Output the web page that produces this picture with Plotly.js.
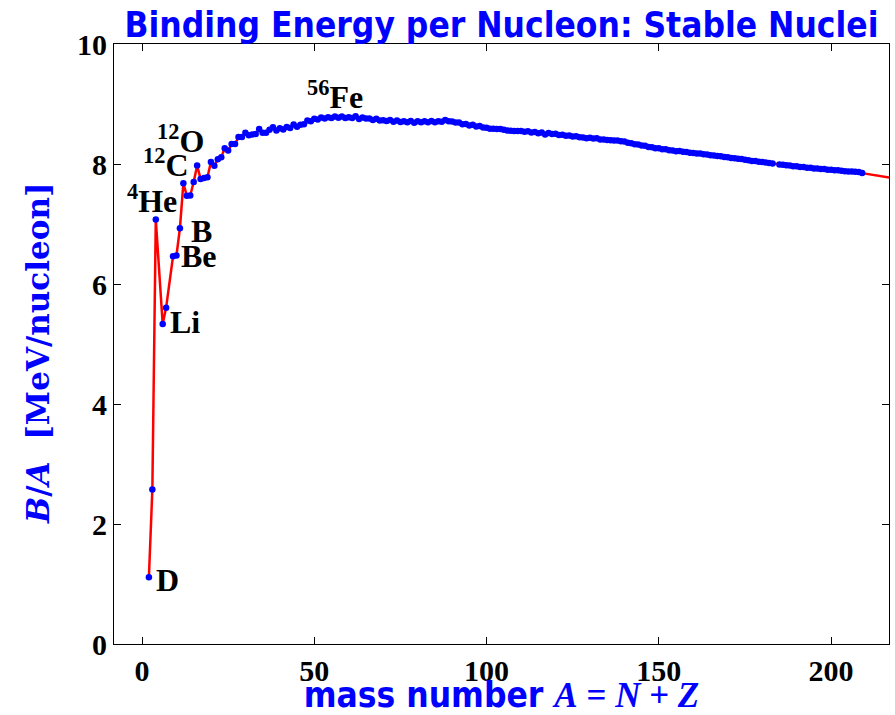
<!DOCTYPE html>
<html><head><meta charset="utf-8">
<script src="https://cdn.plot.ly/plotly-3.0.1.min.js"></script>
<style>html,body{margin:0;padding:0;background:#fff}</style>
</head><body>
<div id="chart" style="width:895px;height:715px"></div>
<script>
// Mass number A of the stable nuclei shown (one point per A)
const massNumber = [2,3,4,6,7,9,10,11,12,13,14,15,16,17,18,19,20,
21,22,23,24,25,26,27,28,29,30,31,32,33,34,35,36,37,38,39,40,
41,42,43,44,45,46,47,48,49,50,51,52,53,54,55,56,57,58,59,60,
61,62,63,64,65,66,67,68,69,70,71,72,73,74,75,76,77,78,79,80,
81,82,83,84,85,86,87,88,89,90,91,92,93,94,95,96,97,98,99,100,
101,102,103,104,105,106,107,108,109,110,111,112,113,114,115,116,117,118,119,120,
121,122,123,124,125,126,127,128,129,130,131,132,133,134,135,136,137,138,139,140,
141,142,143,144,145,146,147,148,149,150,151,152,153,154,155,156,157,158,159,160,
161,162,163,164,165,166,167,168,169,170,171,172,173,174,175,176,177,178,179,180,
181,182,183,185,186,187,188,189,190,191,192,193,194,195,196,197,198,199,200,
201,202,203,204,205,206,207,208,209];
// Binding energy per nucleon B/A in MeV
const bindingPerNucleon = [1.112,2.573,7.074,5.332,5.606,6.463,6.475,6.928,7.680,7.470,7.476,7.699,7.976,7.751,7.767,7.779,8.032,
7.972,8.080,8.112,8.261,8.224,8.334,8.332,8.448,8.449,8.521,8.481,8.493,8.498,8.584,8.520,8.520,8.570,8.614,8.557,8.595,
8.576,8.617,8.601,8.658,8.619,8.656,8.661,8.723,8.711,8.756,8.742,8.776,8.760,8.778,8.765,8.790,8.770,8.792,8.768,8.781,
8.765,8.795,8.752,8.777,8.757,8.760,8.734,8.756,8.725,8.730,8.718,8.732,8.705,8.725,8.701,8.711,8.695,8.718,8.688,8.711,
8.696,8.711,8.696,8.718,8.697,8.712,8.705,8.733,8.714,8.710,8.693,8.693,8.664,8.667,8.643,8.654,8.624,8.635,8.608,8.605,
8.588,8.587,8.584,8.584,8.571,8.560,8.554,8.550,8.548,8.551,8.537,8.545,8.523,8.532,8.514,8.523,8.493,8.517,8.499,8.505,
8.482,8.488,8.472,8.474,8.458,8.463,8.445,8.443,8.431,8.438,8.424,8.428,8.410,8.408,8.398,8.396,8.392,8.393,8.378,8.376,
8.354,8.347,8.330,8.327,8.309,8.304,8.284,8.280,8.263,8.262,8.245,8.244,8.229,8.227,8.213,8.215,8.204,8.202,8.189,8.184,
8.173,8.173,8.162,8.158,8.147,8.142,8.132,8.130,8.115,8.112,8.101,8.097,8.087,8.084,8.069,8.064,8.052,8.049,8.039,8.034,
8.023,8.018,8.008,7.991,7.989,7.978,7.973,7.963,7.963,7.948,7.949,7.938,7.936,7.927,7.926,7.916,7.915,7.905,7.906,
7.896,7.897,7.887,7.880,7.875,7.875,7.870,7.868,7.848];
// the red line continues past the last stable nucleus (to 238U)
const tailMassNumber = [238];
const tailBinding = [7.570];

const xTickVals = [0,50,100,150,200];
const yTickVals = [0,2,4,6,8,10];

const serif = '"Liberation Serif", "DejaVu Serif", serif';
const wideSerif = '"DejaVu Serif", "Liberation Serif", serif';
const narrow = '"Liberation Sans Narrow", "DejaVu Sans Condensed", "Arial Narrow", sans-serif';

const traces = [
  {x: massNumber.concat(tailMassNumber), y: bindingPerNucleon.concat(tailBinding),
   type: 'scatter', mode: 'lines', line: {color: '#ff0000', width: 2.5},
   hoverinfo: 'skip', showlegend: false},
  {x: massNumber, y: bindingPerNucleon, type: 'scatter', mode: 'markers',
   marker: {color: '#0000ff', size: 6.5, line: {width: 0}}, showlegend: false}
];

const lab = (text, x, y, xa) => ({text: '<b>' + text + '</b>', x: x, y: y, xref: 'x', yref: 'y',
  xanchor: xa, yanchor: 'middle', showarrow: false, font: {family: serif, size: 32, color: '#000'}});

const layout = {
  width: 895, height: 715,
  margin: {l: 114, r: 6, t: 44, b: 71},
  paper_bgcolor: '#fff', plot_bgcolor: '#fff',
  title: {text: '<b>Binding Energy per Nucleon: Stable Nuclei</b>',
    font: {family: narrow, size: 35, color: '#0000ff'},
    x: 0.5, xref: 'paper', y: 0.966, yref: 'container', yanchor: 'middle'},
  xaxis: {range: [-8.13, 216.8], tickvals: xTickVals, ticks: 'inside', ticklen: 7,
    tickcolor: '#000', showline: true, linecolor: '#000', linewidth: 1, mirror: 'ticks',
    showgrid: false, zeroline: false,
    tickfont: {family: serif, size: 30, color: '#000', weight: 'bold'},
    title: {text: '<b>mass number <span style="font-family:Liberation Serif"><i>A</i> = <i>N</i> + <i>Z</i></span></b>',
      font: {family: narrow, size: 35, color: '#0000ff'}, standoff: 0}},
  yaxis: {range: [0, 10], tickvals: yTickVals, ticks: 'inside', ticklen: 7,
    tickcolor: '#000', showline: true, linecolor: '#000', linewidth: 1, mirror: 'ticks',
    showgrid: false, zeroline: false,
    tickfont: {family: serif, size: 30, color: '#000', weight: 'bold'}},
  annotations: [
    {text: '<b><i>B</i>/<i>A</i>\u00a0\u00a0[MeV/nucleon]</b>', textangle: -90,
     xref: 'paper', yref: 'paper', x: 0, y: 0.485, xanchor: 'center', yanchor: 'middle',
     xshift: -76, showarrow: false, font: {family: wideSerif, size: 31, color: '#0000ff'}},
    lab('D', 3.4, 1.07, 'left'),
    lab('Li', 7.6, 5.37, 'left'),
    lab('Be', 10.8, 6.47, 'left'),
    lab('B', 13.7, 6.88, 'left'),
    lab('<sup>4</sup>He', 10.8, 7.42, 'right'),
    lab('<sup>12</sup>C', 14.3, 8.02, 'right'),
    lab('<sup>12</sup>O', 18.5, 8.42, 'right'),
    lab('<sup>56</sup>Fe', 47.3, 9.15, 'left')
  ]
};

Plotly.newPlot('chart', traces, layout, {displayModeBar: false, staticPlot: true});
</script>
</body></html>
